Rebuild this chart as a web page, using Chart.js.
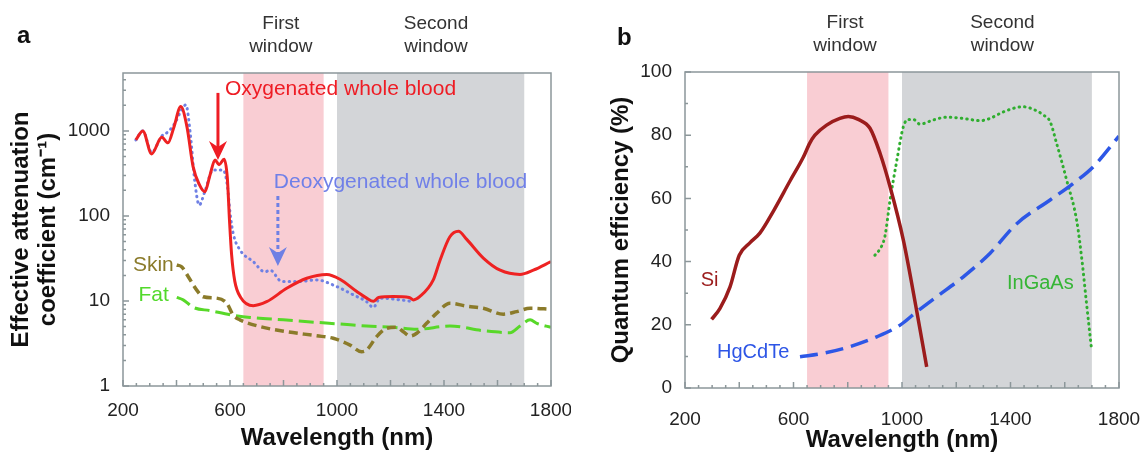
<!DOCTYPE html>
<html>
<head>
<meta charset="utf-8">
<script src="https://cdn.jsdelivr.net/npm/chart.js@4.4.1/dist/chart.umd.min.js"></script>
<style>
  html, body { margin: 0; padding: 0; background: #fff; }
  #wrap { position: relative; width: 1142px; height: 455px; }
  .panel { position: absolute; top: 0; width: 571px; height: 455px; }
</style>
</head>
<body>
<div id="wrap">
  <div class="panel" style="left:0"><canvas id="panelA"></canvas></div>
  <div class="panel" style="left:571px"><canvas id="panelB"></canvas></div>
</div>
<script>
/* =========================
   DATA
========================= */
// panel a : effective attenuation (cm-1), log scale
const wlOxy = [248, 274, 307, 345, 368, 390, 416, 439, 462, 485, 506, 525, 544, 559, 578, 590, 598, 606, 618, 640, 687, 737, 812, 887, 962, 1011, 1074, 1111, 1136, 1155, 1211, 1270, 1286, 1310, 1360, 1385, 1422, 1454, 1485, 1547, 1610, 1684, 1734, 1800];
const oxyBlood = [783, 1000, 537, 843, 724, 1100, 1932, 1123, 380, 235, 193, 300, 456, 400, 464, 280, 90, 35, 17, 11, 8.8, 9.8, 14.1, 18.5, 20.5, 18, 12.9, 10.8, 9.9, 11, 11.3, 11, 10.3, 11.3, 17.7, 30, 57, 66, 53, 32, 23, 20.5, 23, 29];

const wlDeoxy = [248, 274, 307, 345, 369, 395, 420, 435, 452, 468, 485, 505, 537, 574, 590, 600, 612, 637, 687, 730, 750, 793, 862, 924, 986, 1061, 1111, 1136, 1161, 1236, 1286];
const deoxyBlood = [783, 1000, 560, 870, 980, 1250, 1800, 2024, 900, 260, 134, 190, 348, 348, 230, 110, 62, 40, 29, 22, 23, 17, 17, 17.7, 15.4, 11.8, 9.8, 8.4, 10.8, 10.3, 9.8];

const wlSkin = [401, 419, 444, 475, 500, 550, 588, 612, 637, 712, 812, 924, 986, 1049, 1092, 1111, 1148, 1186, 1223, 1248, 1273, 1298, 1335, 1373, 1422, 1485, 1547, 1622, 1672, 1722, 1800];
const skin = [26.5, 25.3, 19.3, 13.5, 11.2, 10.8, 9.4, 6.8, 6.0, 5.0, 4.35, 3.9, 3.64, 3.03, 2.53, 2.65, 3.8, 4.77, 4.9, 4.35, 3.87, 4.17, 5.46, 7.2, 9.4, 8.7, 8.2, 7.0, 7.5, 8.2, 8.0];

const wlFat = [401, 425, 463, 525, 612, 675, 799, 924, 1011, 1111, 1211, 1298, 1422, 1547, 1647, 1684, 1722, 1747, 1800];
const fat = [11.0, 10.3, 8.4, 7.7, 6.8, 6.4, 6.0, 5.6, 5.36, 5.08, 4.9, 4.64, 5.08, 4.47, 4.24, 5.08, 6.0, 5.46, 4.9];

// panel b : quantum efficiency (%)
const wlSi = [298, 329, 366, 400, 440, 476, 526, 587, 636, 660, 679, 722, 771, 802, 839, 882, 919, 956, 1005, 1054, 1091];
const si = [21.7, 25.2, 32, 42, 46, 49, 56, 65.5, 73, 77.5, 80, 83.2, 85.3, 85.9, 85, 82.2, 74.3, 63.7, 46.8, 24.5, 6.7];

const wlHg = [624, 710, 808, 907, 993, 1054, 1128, 1226, 1324, 1423, 1546, 1632, 1705, 1800];
const hgcdte = [9.9, 11, 13.1, 16.2, 19.9, 24.1, 28.9, 35.2, 42.6, 52, 59.5, 64.8, 70, 79.7];

const wlIn = [900, 915, 937, 956, 981, 1005, 1023, 1042, 1066, 1115, 1164, 1226, 1288, 1324, 1374, 1447, 1484, 1521, 1546, 1570, 1607, 1644, 1664, 1680, 1699];
const ingaas = [42, 43.5, 48, 59.5, 72, 82.7, 85, 85, 83.5, 84.8, 85.7, 85.3, 84.6, 85.3, 87.4, 89, 88.2, 86.4, 84.3, 77.4, 65.8, 53, 40, 27, 12];

// axes
const xTicks = [200, 600, 1000, 1400, 1800];
const xTickLabels = ["200", "600", "1000", "1400", "1800"];
const yTicksA = [1, 10, 100, 1000];
const yTickLabelsA = ["1", "10", "100", "1000"];
const yTicksB = [0, 20, 40, 60, 80, 100];
const yTickLabelsB = ["0", "20", "40", "60", "80", "100"];

// optical windows (nm)
const firstWindow = [650, 950];
const secondWindow = [1000, 1700];

/* =========================
   STYLE
========================= */
const FONT = "'Liberation Sans', Arial, sans-serif";
const AXIS = "#8c979a";
const PINK = "#f9cdd3";
const GREY = "#d3d5d8";

const pts = (xs, ys) => xs.map((x, i) => ({ x: x, y: ys[i] }));

function line(data, color, width, dash, cap) {
    return {
        data: data,
        borderColor: color,
        borderWidth: width,
        borderDash: dash || [],
        borderCapStyle: cap || "butt",
        pointRadius: 0,
        fill: false,
        cubicInterpolationMode: "monotone"
    };
}

function drawArrow(ctx, px, top, tip, color, dash) {
    ctx.strokeStyle = color;
    ctx.fillStyle = color;
    ctx.lineWidth = 3;
    ctx.setLineDash(dash);
    ctx.beginPath();
    ctx.moveTo(px, top);
    ctx.lineTo(px, tip - 12);
    ctx.stroke();
    ctx.setLineDash([]);
    ctx.beginPath();
    ctx.moveTo(px, tip);
    ctx.lineTo(px - 9, tip - 19);
    ctx.lineTo(px, tip - 13);
    ctx.lineTo(px + 9, tip - 19);
    ctx.closePath();
    ctx.fill();
}

/* =========================
   DECOR PLUGIN (bands, frame, inner ticks, labels)
========================= */
function makeDecor(o) {
    return {
        id: "decor",
        beforeDatasetsDraw(chart) {
            const { ctx, chartArea: a, scales: { x } } = chart;
            ctx.save();
            [[firstWindow, PINK], [secondWindow, GREY]].forEach(([w, c]) => {
                const x0 = x.getPixelForValue(w[0]), x1 = x.getPixelForValue(w[1]);
                ctx.fillStyle = c;
                ctx.fillRect(x0, a.top, x1 - x0, a.bottom - a.top);
            });
            ctx.restore();
        },
        afterDatasetsDraw(chart) {
            const { ctx, chartArea: a, scales: { x, y } } = chart;
            ctx.save();

            // frame + inner ticks
            ctx.strokeStyle = AXIS;
            ctx.lineWidth = 1.5;
            ctx.strokeRect(a.left, a.top, a.right - a.left, a.bottom - a.top);
            ctx.beginPath();
            for (let v = 200; v <= 1800; v += 50) {
                const px = x.getPixelForValue(v);
                ctx.moveTo(px, a.bottom);
                ctx.lineTo(px, a.bottom - (v % 200 === 0 ? 6 : 3));
            }
            o.yMarks.forEach(([v, len]) => {
                const py = y.getPixelForValue(v);
                ctx.moveTo(a.left, py);
                ctx.lineTo(a.left + len, py);
            });
            ctx.stroke();

            // window captions above the plot
            ctx.fillStyle = "#333";
            ctx.font = "19px " + FONT;
            ctx.textAlign = "center";
            ctx.textBaseline = "middle";
            [[790, "First"], [1370, "Second"]].forEach(([v, t]) => {
                const px = x.getPixelForValue(v);
                ctx.fillText(t, px, a.top - 49);
                ctx.fillText("window", px, a.top - 26);
            });

            // panel letter
            ctx.fillStyle = "#111";
            ctx.font = "bold 24px " + FONT;
            ctx.textAlign = "left";
            ctx.textBaseline = "alphabetic";
            ctx.fillText(o.letter[0], o.letter[1], o.letter[2]);

            // series labels
            ctx.textBaseline = "middle";
            o.notes.forEach(n => {
                ctx.fillStyle = n.color;
                ctx.font = n.size + "px " + FONT;
                ctx.fillText(n.text, x.getPixelForValue(n.x), y.getPixelForValue(n.y));
            });

            // arrows
            (o.arrows || []).forEach(r => {
                drawArrow(ctx, x.getPixelForValue(r.x), y.getPixelForValue(r.from),
                    y.getPixelForValue(r.to), r.color, r.dash);
            });
            ctx.restore();
        }
    };
}

function xScale(tickPad, titlePad, height) {
    return {
        type: "linear",
        min: 200,
        max: 1800,
        afterBuildTicks: s => { s.ticks = xTicks.map(v => ({ value: v })); },
        afterFit: s => {
            s.height = height;
            s.paddingLeft = 0;
            s.paddingRight = 0;
        },
        grid: { display: false },
        border: { display: false },
        ticks: {
            padding: tickPad,
            color: "#222",
            font: { family: FONT, size: 19 },
            maxRotation: 0,
            callback: (v, i) => xTickLabels[i]
        },
        title: {
            display: true,
            text: "Wavelength (nm)",
            color: "#111",
            font: { family: FONT, size: 24, weight: "bold" },
            padding: { top: 0, bottom: titlePad }
        }
    };
}

/* =========================
   PANEL A
========================= */
const logMarks = [];
[1, 10, 100, 1000].forEach(d => {
    for (let k = 1; k <= 9; k++) {
        if (d * k <= 4800) logMarks.push([d * k, k === 1 ? 6 : 3]);
    }
});

new Chart(document.getElementById("panelA"), {
    type: "line",
    data: {
        datasets: [
            line(pts(wlOxy, oxyBlood), "#ee2222", 3),
            line(pts(wlDeoxy, deoxyBlood), "#6f80e4", 3, [0.5, 5], "round"),
            line(pts(wlSkin, skin), "#8b7b2a", 3.5, [9, 5]),
            line(pts(wlFat, fat), "#58d829", 3, [15, 6])
        ]
    },
    options: {
        responsive: true,
        maintainAspectRatio: false,
        animation: false,
        layout: { padding: { top: 73, right: 20, left: 0, bottom: 0 } },
        plugins: { legend: { display: false }, tooltip: { enabled: false } },
        scales: {
            x: xScale(5, 2, 69),
            y: {
                type: "logarithmic",
                min: 1,
                max: 4800,
                afterBuildTicks: s => { s.ticks = yTicksA.map(v => ({ value: v })); },
                afterFit: s => { s.width = 123; },
                grid: { display: false },
                border: { display: false },
                ticks: {
                    padding: 5,
                    color: "#222",
                    font: { family: FONT, size: 19 },
                    callback: (v, i) => yTickLabelsA[i]
                },
                title: {
                    display: true,
                    text: ["Effective attenuation", "coefficient (cm\u207B\u00B9)"],
                    color: "#111",
                    font: { family: FONT, size: 24, weight: "bold", lineHeight: 1.125 },
                    padding: { top: 8, bottom: 0 }
                }
            }
        }
    },
    plugins: [makeDecor({
        letter: ["a", 17, 43],
        yMarks: logMarks,
        notes: [
            { text: "Oxygenated whole blood", x: 581, y: 3120, color: "#ee1c24", size: 21 },
            { text: "Deoxygenated whole blood", x: 764, y: 251, color: "#7080e8", size: 21 },
            { text: "Skin", x: 237, y: 26.5, color: "#8b7b2b", size: 21 },
            { text: "Fat", x: 258, y: 11.8, color: "#52d92b", size: 21 }
        ],
        arrows: [
            { x: 555, from: 2800, to: 456, color: "#ee1c24", dash: [] },
            { x: 779, from: 172, to: 25.8, color: "#6f80e4", dash: [4, 3] }
        ]
    })]
});

/* =========================
   PANEL B
========================= */
const linMarks = [];
for (let v = 0; v <= 100; v += 10) linMarks.push([v, v % 20 === 0 ? 6 : 3]);

new Chart(document.getElementById("panelB"), {
    type: "line",
    data: {
        datasets: [
            line(pts(wlSi, si), "#9b1c1c", 3.5),
            line(pts(wlHg, hgcdte), "#2d57e6", 3.5, [18, 8]),
            line(pts(wlIn, ingaas), "#2fae2f", 3, [0.5, 5], "round")
        ]
    },
    options: {
        responsive: true,
        maintainAspectRatio: false,
        animation: false,
        layout: { padding: { top: 72, right: 23, left: 0, bottom: 0 } },
        plugins: { legend: { display: false }, tooltip: { enabled: false } },
        scales: {
            x: xScale(12, 0, 67),
            y: {
                type: "linear",
                min: 0,
                max: 100,
                afterBuildTicks: s => { s.ticks = yTicksB.map(v => ({ value: v })); },
                afterFit: s => { s.width = 114; },
                grid: { display: false },
                border: { display: false },
                ticks: {
                    padding: 5,
                    color: "#222",
                    font: { family: FONT, size: 19 },
                    callback: (v, i) => yTickLabelsB[i]
                },
                title: {
                    display: true,
                    text: "Quantum efficiency (%)",
                    color: "#111",
                    font: { family: FONT, size: 24, weight: "bold" },
                    padding: { top: 36, bottom: 0 }
                }
            }
        }
    },
    plugins: [makeDecor({
        letter: ["b", 46, 45],
        yMarks: linMarks,
        notes: [
            { text: "Si", x: 258, y: 33.9, color: "#9b1c1c", size: 20 },
            { text: "HgCdTe", x: 318, y: 11.1, color: "#2d55e6", size: 20 },
            { text: "InGaAs", x: 1387, y: 33.2, color: "#35b535", size: 20 }
        ]
    })]
});
</script>
</body>
</html>
